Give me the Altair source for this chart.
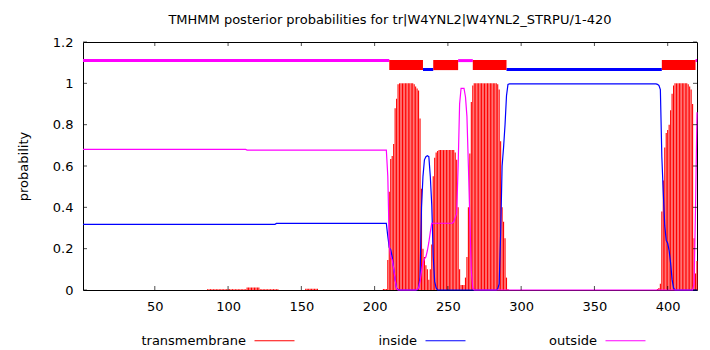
import altair as alt
import pandas as pd

N_RES = 420
TITLE = "TMHMM posterior probabilities for tr|W4YNL2|W4YNL2_STRPU/1-420"
SERIES = ["transmembrane", "inside", "outside"]
COLORS = ["#ff0000", "#0000ff", "#ff00ff"]
X_TICKS = [50, 100, 150, 200, 250, 300, 350, 400]
Y_TICKS = [0, 0.2, 0.4, 0.6, 0.8, 1.0, 1.2]

# transmembrane posterior: flat runs (start, end, value) and single residues
TM_RUNS = [(86, 112, 0.004), (113, 121, 0.012), (122, 134, 0.004), (153, 161, 0.006),
           (206, 208, 0.005), (217, 226, 1.0), (244, 254, 0.677), (268, 283, 1.0),
           (405, 413, 1.0)]
TM_POINTS = {209: 0.145, 210: 0.476, 211: 0.634, 212: 0.648, 213: 0.706, 214: 0.88,
             215: 0.925, 216: 0.995, 227: 0.995, 228: 0.985, 229: 0.975, 230: 0.965,
             231: 0.83, 232: 0.49, 233: 0.2, 234: 0.16, 235: 0.12, 236: 0.1, 237: 0.05,
             238: 0.1, 239: 0.22, 240: 0.55, 241: 0.64, 242: 0.665, 243: 0.672,
             255: 0.665, 256: 0.63, 257: 0.4, 258: 0.1, 259: 0.024, 260: 0.024,
             261: 0.024, 262: 0.06, 263: 0.16, 264: 0.4, 265: 0.66, 266: 0.91, 267: 0.99,
             284: 0.995, 285: 0.97, 286: 0.72, 287: 0.4, 288: 0.33, 289: 0.25, 290: 0.06,
             291: 0.005, 393: 0.005, 394: 0.01, 395: 0.03, 396: 0.38, 397: 0.53, 398: 0.69,
             399: 0.76, 400: 0.774, 401: 0.8, 402: 0.87, 403: 0.95, 404: 0.99, 414: 0.995,
             415: 0.985, 416: 0.97, 417: 0.9, 418: 0.25, 419: 0.08, 420: 0.14}

IN_RUNS = [(1, 132, 0.318), (133, 208, 0.322), (217, 229, 0.0), (243, 283, 0.0),
           (292, 392, 0.997), (405, 420, 0.0)]
IN_POINTS = {209: 0.26, 210: 0.205, 211: 0.195, 212: 0.16, 213: 0.105, 214: 0.05,
             215: 0.008, 216: 0.002, 230: 0.01, 231: 0.06, 232: 0.4, 233: 0.55,
             234: 0.63, 235: 0.645, 236: 0.65, 237: 0.645, 238: 0.55, 239: 0.41,
             240: 0.16, 241: 0.04, 242: 0.01, 284: 0.005, 285: 0.03, 286: 0.27,
             287: 0.6, 288: 0.69, 289: 0.8, 290: 0.94, 291: 0.995, 393: 0.995,
             394: 0.99, 395: 0.97, 396: 0.645, 397: 0.47, 398: 0.31, 399: 0.24,
             400: 0.226, 401: 0.19, 402: 0.13, 403: 0.05, 404: 0.01}

OUT_RUNS = [(1, 112, 0.680), (113, 208, 0.677), (216, 228, 0.0), (239, 253, 0.323),
            (268, 417, 0.0)]
OUT_POINTS = {209: 0.55, 210: 0.22, 211: 0.16, 212: 0.145, 213: 0.105, 214: 0.05,
              215: 0.005, 229: 0.003, 230: 0.01, 231: 0.04, 232: 0.09, 233: 0.13,
              234: 0.15, 235: 0.16, 236: 0.19, 237: 0.23, 238: 0.28, 254: 0.33,
              255: 0.35, 256: 0.37, 257: 0.6, 258: 0.9, 259: 0.976, 260: 0.976,
              261: 0.976, 262: 0.935, 263: 0.84, 264: 0.6, 265: 0.34, 266: 0.09,
              267: 0.01, 418: 0.03, 419: 0.4, 420: 0.86}

# predicted topology
TOPO_KIND = ["outside", "TMhelix", "inside", "TMhelix", "outside", "TMhelix",
             "inside", "TMhelix", "outside"]
TOPO_START = [1, 210, 233, 240, 257, 267, 290, 396, 419]
TOPO_END = [209, 232, 239, 256, 266, 289, 395, 418, 420]


def expand(runs, points):
    vals = {}
    for s, e, v in runs:
        for r in range(s, e + 1):
            vals[r] = v
    vals.update(points)
    return vals


tm = expand(TM_RUNS, TM_POINTS)
ins = expand(IN_RUNS, IN_POINTS)
outs = expand(OUT_RUNS, OUT_POINTS)

tm_df = pd.DataFrame({"res": sorted(tm), "value": [tm[r] for r in sorted(tm)]})
tm_df["series"] = "transmembrane"
line_rows = []
for name, d in (("inside", ins), ("outside", outs)):
    for r in sorted(d):
        line_rows.append({"res": r, "value": d[r], "series": name})
line_df = pd.DataFrame(line_rows)

topo_df = pd.DataFrame({"kind": TOPO_KIND, "start": TOPO_START,
                        "end": [min(e + 1, N_RES) for e in TOPO_END]})

FONT = "DejaVu Sans"
x_scale = alt.Scale(domain=[1, N_RES], nice=False, zero=False)
y_scale = alt.Scale(domain=[0, 1.2], nice=False)
x_axis = alt.Axis(values=X_TICKS, format="d", ticks=False, domain=False, grid=False,
                  labelPadding=10)
y_axis = alt.Axis(values=Y_TICKS, format="~g", ticks=False, domain=False, grid=False,
                  labelPadding=10, titleX=-60, titleY=124, titleAngle=270,
                  titleAlign="center", titleBaseline="middle")


def X(field=None, datum=None):
    if datum is not None:
        return alt.X(datum=datum, scale=x_scale, axis=x_axis, title=None)
    return alt.X(field, type="quantitative", scale=x_scale, axis=x_axis, title=None)


def Y(field=None, datum=None):
    if datum is not None:
        return alt.Y(datum=datum, scale=y_scale, axis=y_axis, title="probability")
    return alt.Y(field, type="quantitative", scale=y_scale, axis=y_axis, title="probability")


# legend sample line drawn to the right of a right-aligned label (gnuplot style key)
color = alt.Color("series:N", scale=alt.Scale(domain=SERIES, range=COLORS), sort=SERIES,
                  legend=alt.Legend(title=None, orient="none", direction="horizontal",
                                    legendX=142, legendY=288, symbolType="M1.9,0H5.9",
                                    symbolSize=400, symbolStrokeWidth=1,
                                    symbolFillColor="transparent",
                                    labelAlign="right", labelOffset=0,
                                    labelFont=FONT, labelFontSize=13, labelColor="black",
                                    columnPadding=81, padding=0, labelLimit=300))

bars = alt.Chart(tm_df).mark_rule(strokeWidth=1.1).encode(
    x=X("res"), y=Y("value"), y2=alt.Y2(datum=0), color=color)
lines = alt.Chart(line_df).mark_line(strokeWidth=1.2).encode(
    x=X("res"), y=Y("value"), color=color)

topo_out = alt.Chart(topo_df).transform_filter(alt.datum.kind == "outside").mark_rule(
    strokeWidth=3, color="#ff00ff").encode(x=X("start"), x2="end", y=Y(datum=1.11))
topo_in = alt.Chart(topo_df).transform_filter(alt.datum.kind == "inside").mark_rule(
    strokeWidth=3, color="#0000ff").encode(x=X("start"), x2="end", y=Y(datum=1.067))
topo_tm = alt.Chart(topo_df).transform_filter(alt.datum.kind == "TMhelix").mark_rect(
    color="#ff0000").encode(x=X("start"), x2="end", y=Y(datum=1.064), y2=alt.Y2(datum=1.113))

xt = pd.DataFrame({"t": X_TICKS})
yt = pd.DataFrame({"t": Y_TICKS})
tick_b = alt.Chart(xt).mark_tick(orient="vertical", size=4, thickness=1, color="black",
                                 yOffset=-2).encode(x=X("t"), y=Y(datum=0))
tick_t = alt.Chart(xt).mark_tick(orient="vertical", size=4, thickness=1, color="black",
                                 yOffset=2).encode(x=X("t"), y=Y(datum=1.2))
tick_l = alt.Chart(yt).mark_tick(orient="horizontal", size=4, thickness=1, color="black",
                                 xOffset=2).encode(y=Y("t"), x=X(datum=1))
tick_r = alt.Chart(yt).mark_tick(orient="horizontal", size=4, thickness=1, color="black",
                                 xOffset=-2).encode(y=Y("t"), x=X(datum=N_RES))

chart = alt.layer(bars, lines, topo_out, topo_in, topo_tm, tick_b, tick_t, tick_l, tick_r).properties(
    width=614, height=248,
    autosize=alt.AutoSizeParams(type="none"),
    padding={"left": 75, "top": 34, "right": 5, "bottom": 60},
    title=alt.TitleParams(TITLE, font=FONT, fontSize=13, fontWeight="normal",
                          color="black", anchor="middle", offset=9),
).configure_view(stroke="black", strokeWidth=1).configure_axis(
    labelFont=FONT, labelFontSize=13, labelColor="black",
    titleFont=FONT, titleFontSize=13, titleFontWeight="normal", titleColor="black")

chart.save("out.html", embed_options={"renderer": "svg", "actions": False})
